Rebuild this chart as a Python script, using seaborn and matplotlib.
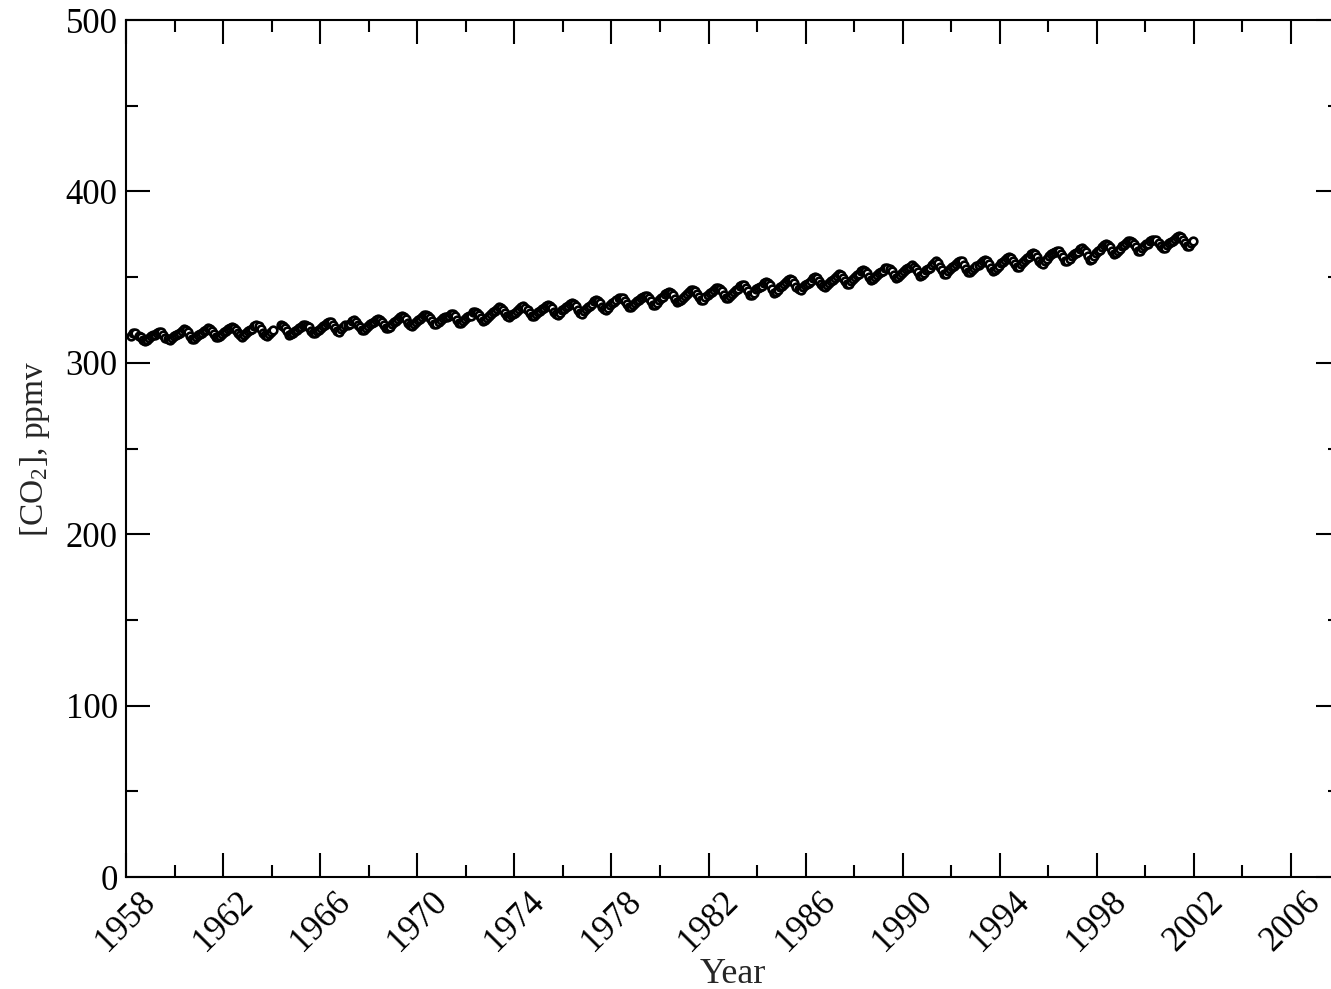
import numpy as np
import pandas as pd
import seaborn as sns
import matplotlib.pyplot as plt

# Mauna Loa monthly CO2 (ppmv), Jan..Dec, NaN = missing month
co2_1958 = [np.nan, np.nan, 315.71, 317.45, 317.50, np.nan, 315.86, 314.93, 313.20, 312.66, 313.33, 314.67]
co2_1959 = [315.42, 316.31, 316.50, 317.56, 318.13, 318.00, 316.39, 314.65, 313.68, 313.18, 314.66, 315.43]
co2_1960 = [316.27, 316.81, 317.42, 318.87, 319.87, 319.43, 318.01, 315.74, 314.00, 313.68, 314.84, 316.03]
co2_1961 = [316.73, 317.54, 318.38, 319.31, 320.42, 319.61, 318.42, 316.63, 314.83, 315.16, 315.94, 316.85]
co2_1962 = [317.78, 318.40, 319.53, 320.42, 320.85, 320.45, 319.45, 317.25, 316.11, 315.27, 316.53, 317.53]
co2_1963 = [318.58, 318.92, 319.70, 321.22, 322.08, 321.31, 319.58, 317.61, 316.05, 315.83, 316.91, 318.20]
co2_1964 = [319.41, np.nan, np.nan, np.nan, 322.06, 321.73, 320.27, 318.54, 316.54, 316.71, 317.53, 318.55]
co2_1965 = [319.27, 320.28, 320.73, 321.97, 322.00, 321.71, 321.05, 318.71, 317.66, 317.14, 318.70, 319.25]
co2_1966 = [320.46, 321.43, 322.23, 323.54, 323.91, 323.59, 322.24, 320.20, 318.48, 317.94, 319.63, 320.87]
co2_1967 = [322.17, 322.34, 322.88, 324.25, 324.83, 323.93, 322.38, 320.76, 319.10, 319.24, 320.56, 321.80]
co2_1968 = [322.40, 322.99, 323.73, 324.86, 325.40, 325.20, 323.98, 321.95, 320.18, 320.09, 321.16, 322.74]
co2_1969 = [323.83, 324.26, 325.47, 326.50, 327.21, 326.54, 325.72, 323.50, 322.22, 321.62, 322.69, 323.95]
co2_1970 = [324.89, 325.82, 326.77, 327.97, 327.91, 327.50, 326.18, 324.53, 322.93, 322.90, 323.85, 324.96]
co2_1971 = [326.01, 326.51, 327.01, 327.62, 328.76, 328.40, 327.20, 325.27, 323.20, 323.40, 324.63, 325.85]
co2_1972 = [326.60, 327.47, 327.58, 329.56, 329.90, 328.92, 327.88, 326.16, 324.68, 325.04, 326.34, 327.39]
co2_1973 = [328.37, 329.40, 330.14, 331.33, 332.31, 331.90, 330.70, 329.15, 327.35, 327.02, 327.99, 328.48]
co2_1974 = [329.18, 330.55, 331.32, 332.48, 332.92, 332.08, 331.01, 329.23, 327.27, 327.21, 328.29, 329.41]
co2_1975 = [330.23, 331.25, 331.87, 333.14, 333.80, 333.43, 331.73, 329.90, 328.40, 328.17, 329.32, 330.59]
co2_1976 = [331.58, 332.39, 333.33, 334.41, 334.71, 334.17, 332.89, 330.77, 329.14, 328.78, 330.14, 331.52]
co2_1977 = [332.75, 333.24, 334.53, 335.90, 336.57, 336.10, 334.76, 332.59, 331.42, 330.98, 332.24, 333.68]
co2_1978 = [334.80, 335.22, 336.47, 337.59, 337.84, 337.72, 336.37, 334.51, 332.60, 332.38, 333.75, 334.78]
co2_1979 = [336.05, 336.59, 337.79, 338.71, 339.30, 339.12, 337.56, 335.92, 333.75, 333.70, 335.12, 336.56]
co2_1980 = [337.84, 338.19, 339.91, 340.60, 341.29, 341.00, 339.39, 337.43, 335.72, 335.84, 336.93, 338.04]
co2_1981 = [339.06, 340.30, 341.21, 342.33, 342.74, 342.08, 340.32, 338.26, 336.52, 336.68, 338.19, 339.44]
co2_1982 = [340.57, 341.44, 342.53, 343.39, 343.96, 343.18, 341.88, 339.65, 337.81, 337.69, 339.09, 340.32]
co2_1983 = [341.20, 342.35, 342.93, 344.77, 345.58, 345.14, 343.81, 342.21, 339.69, 339.82, 340.98, 342.82]
co2_1984 = [343.52, 344.33, 345.11, 346.88, 347.25, 346.62, 345.22, 343.11, 340.90, 341.18, 342.80, 344.04]
co2_1985 = [344.79, 345.82, 347.25, 348.17, 348.74, 348.07, 346.38, 344.51, 342.92, 342.62, 344.06, 345.38]
co2_1986 = [346.11, 346.78, 347.68, 349.37, 350.03, 349.37, 347.76, 345.73, 344.68, 343.99, 345.48, 346.72]
co2_1987 = [347.84, 348.29, 349.23, 350.80, 351.66, 351.07, 349.33, 347.92, 346.27, 346.18, 347.64, 348.78]
co2_1988 = [350.25, 351.54, 352.05, 353.41, 354.04, 353.62, 352.22, 350.27, 348.55, 348.72, 349.91, 351.18]
co2_1989 = [352.60, 352.92, 353.53, 355.26, 355.52, 354.97, 353.75, 351.52, 349.64, 349.83, 351.14, 352.37]
co2_1990 = [353.50, 354.55, 355.23, 356.04, 357.00, 356.07, 354.67, 352.76, 350.82, 351.04, 352.69, 354.07]
co2_1991 = [354.59, 355.63, 357.03, 358.48, 359.22, 358.12, 356.06, 353.92, 352.05, 352.11, 353.64, 354.89]
co2_1992 = [355.88, 356.63, 357.72, 359.07, 359.58, 359.17, 356.94, 354.92, 352.94, 353.23, 354.09, 355.33]
co2_1993 = [356.63, 357.10, 358.32, 359.41, 360.23, 359.55, 357.53, 355.48, 353.67, 353.95, 355.30, 356.78]
co2_1994 = [358.34, 358.89, 359.95, 361.25, 361.67, 360.94, 359.55, 357.49, 355.84, 356.00, 357.59, 359.05]
co2_1995 = [359.98, 361.03, 361.66, 363.48, 363.82, 363.30, 361.94, 359.50, 358.11, 357.80, 359.61, 360.74]
co2_1996 = [362.09, 363.29, 364.06, 364.76, 365.45, 365.01, 363.70, 361.54, 359.51, 359.65, 360.80, 362.38]
co2_1997 = [363.23, 364.06, 364.61, 366.40, 366.84, 365.68, 364.52, 362.57, 360.24, 360.83, 362.49, 364.34]
co2_1998 = [365.18, 366.03, 367.37, 368.65, 369.56, 368.85, 367.61, 365.53, 363.69, 363.87, 365.16, 366.55]
co2_1999 = [367.99, 368.95, 369.65, 370.84, 371.12, 370.51, 369.43, 367.32, 365.16, 365.43, 366.75, 368.12]
co2_2000 = [369.29, 369.56, 370.97, 371.82, 371.70, 371.62, 369.97, 368.10, 366.73, 366.76, 368.51, 369.66]
co2_2001 = [370.63, 371.33, 372.34, 373.39, 373.97, 373.37, 371.86, 369.77, 368.07, 368.44, 369.66, 370.97]

years = list(range(1958, 2002))
monthly = [co2_1958, co2_1959, co2_1960, co2_1961, co2_1962, co2_1963, co2_1964,
           co2_1965, co2_1966, co2_1967, co2_1968, co2_1969, co2_1970, co2_1971,
           co2_1972, co2_1973, co2_1974, co2_1975, co2_1976, co2_1977, co2_1978,
           co2_1979, co2_1980, co2_1981, co2_1982, co2_1983, co2_1984, co2_1985,
           co2_1986, co2_1987, co2_1988, co2_1989, co2_1990, co2_1991, co2_1992,
           co2_1993, co2_1994, co2_1995, co2_1996, co2_1997, co2_1998, co2_1999,
           co2_2000, co2_2001]

x_ticks = list(range(1958, 2007, 4))
y_ticks = [0, 100, 200, 300, 400, 500]

# build long table, month centred in its year
rows = []
for yr, vals in zip(years, monthly):
    for m, v in enumerate(vals):
        rows.append((yr + (m + 0.5) / 12.0, v))
df = pd.DataFrame(rows, columns=["year", "co2"])
# split at missing months so the line breaks there
df["seg"] = df["co2"].isna().cumsum()
df = df.dropna()

sns.set_style("ticks")
plt.rcParams["font.family"] = ["Liberation Serif", "DejaVu Serif"]
plt.rcParams["mathtext.fontset"] = "custom"
plt.rcParams["mathtext.rm"] = "Liberation Serif"
plt.rcParams["mathtext.it"] = "Liberation Serif:italic"

fig = plt.figure(figsize=(13.31, 9.89), dpi=100)
ax = fig.add_axes([0.0947, 0.1132, 0.9117, 0.8665])

sns.lineplot(data=df, x="year", y="co2", units="seg", estimator=None,
             color="black", linewidth=2.2, marker="o", markersize=5.5,
             markerfacecolor="white", markeredgecolor="black",
             markeredgewidth=1.9, ax=ax)

ax.set_xlim(1958, 2008)
ax.set_ylim(0, 500)
ax.set_xticks(x_ticks)
ax.set_xticks(np.arange(1960, 2008, 4), minor=True)
ax.set_yticks(y_ticks)
ax.set_yticks(np.arange(50, 500, 100), minor=True)
ax.set_xticklabels([str(t) for t in x_ticks], rotation=45)

ax.tick_params(which="both", direction="in", top=True, right=True,
               labelsize=25, width=1.5, colors="black", pad=6)
ax.tick_params(which="major", length=17)
ax.tick_params(which="minor", length=8.5)
for s in ax.spines.values():
    s.set_linewidth(1.5)
    s.set_color("black")

ax.set_xlabel("Year", fontsize=26, labelpad=0)
ax.set_ylabel("[CO$_2$], ppmv", fontsize=24, labelpad=10)

fig.savefig("out.png", dpi=100)
